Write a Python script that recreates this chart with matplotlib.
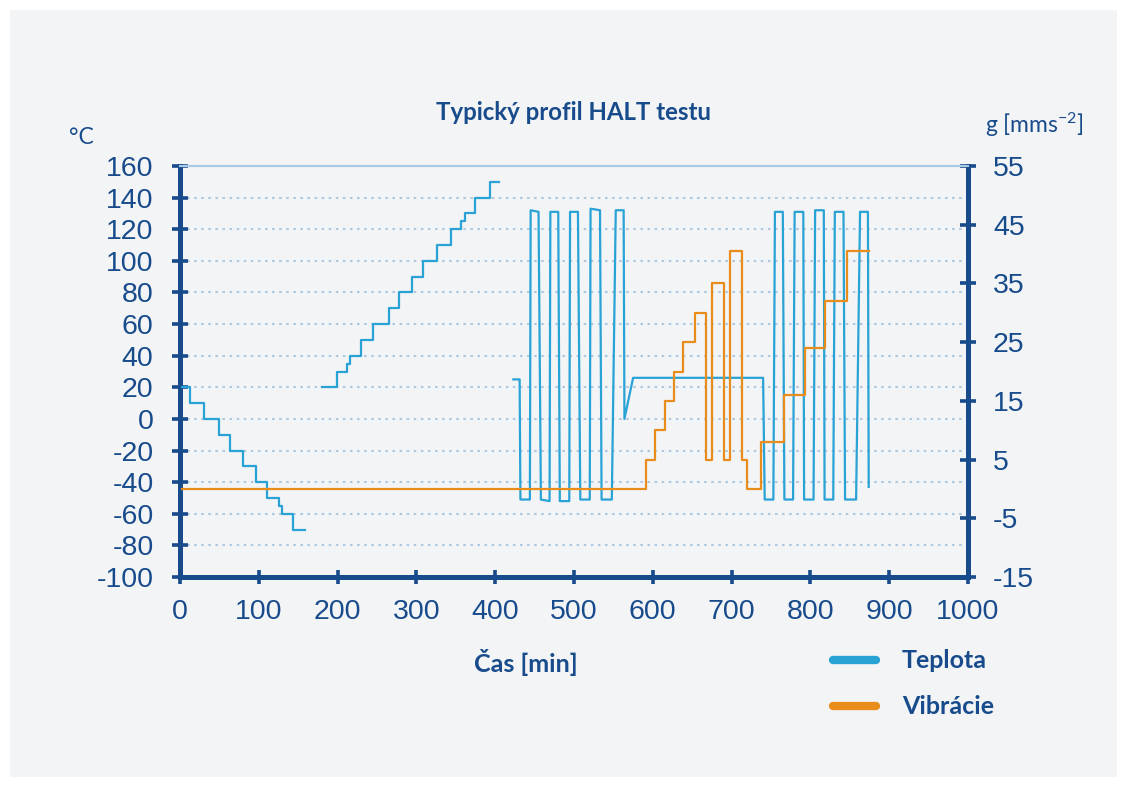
import matplotlib
matplotlib.use('Agg')
import matplotlib.pyplot as plt
from matplotlib.patches import Rectangle
from matplotlib.lines import Line2D

# ---- data ----
# Teplota: cold step stress (step, where='post')
cold_t = [3, 13, 31, 50, 64, 80, 96, 111, 126, 129, 143, 159]
cold_v = [20, 10, 0, -10, -20, -30, -40, -50, -55, -60, -70, -70]
# Teplota: hot step stress
hot_t = [180, 199, 212, 216, 230, 245, 265, 278, 294, 309, 326, 344, 357, 362, 375, 393, 405]
hot_v = [20, 30, 35, 40, 50, 60, 70, 80, 90, 100, 110, 120, 125, 130, 140, 150, 150]
# Teplota: rapid thermal cycling + combined (polyline)
cyc_t = [423, 431, 432, 444, 445, 455, 458, 469, 470, 480, 482, 494, 495, 505, 508, 520,
         521, 533, 535, 548, 553, 563, 564, 575, 740, 742, 753, 755, 765, 767, 778, 780,
         791, 792, 804, 806, 817, 818, 829, 831, 842, 844, 858, 863, 873, 874]
cyc_v = [25, 25, -51, -51, 132, 131, -51, -52, 131, 131, -52, -52, 131, 131, -51, -51,
         133, 132, -51, -51, 132, 132, 0, 26, 26, -51, -51, 131, 131, -51, -51, 131,
         131, -51, -51, 132, 132, -51, -51, 131, 131, -51, -51, 131, 131, -43]
# Vibrácie (g), step where='post'
vib_t = [3, 591, 603, 615, 627, 638, 653, 668, 675, 690, 698, 713, 720, 737, 767, 793, 819, 846, 874]
vib_v = [0, 5, 10, 15, 20, 25, 30, 5, 35, 5, 40.5, 5, 0, 8, 16, 24, 32, 40.5, 40.5]

x_ticks = list(range(0, 1001, 100))
y_ticks = list(range(-100, 161, 20))
g_ticks = list(range(-15, 56, 10))

NAVY = '#174b8b'
BLUE = '#29a2d6'
ORANGE = '#e88d1c'
BG = '#f3f4f6'

plt.rcParams['font.family'] = ['Liberation Sans', 'DejaVu Sans']
plt.rcParams['axes.unicode_minus'] = False
plt.rcParams['mathtext.default'] = 'regular'

W, H = 1127, 787
fig = plt.figure(figsize=(W / 100, H / 100), dpi=100, facecolor='white')
fig.patches.append(Rectangle((10 / W, 10 / H), 1 - 20 / W, 1 - 20 / H,
                             transform=fig.transFigure, facecolor=BG,
                             edgecolor='none', zorder=-10))

ax = fig.add_axes([180 / W, 1 - 577 / H, 788 / W, 411 / H])
ax.set_facecolor('none')
ax2 = ax.twinx()

# lines
ax.step(cold_t, cold_v, where='post', color=BLUE, lw=1.6, zorder=3)
ax.step(hot_t, hot_v, where='post', color=BLUE, lw=1.6, zorder=3)
ax.plot(cyc_t, cyc_v, color=BLUE, lw=1.6, zorder=3)
ax2.step(vib_t, vib_v, where='post', color=ORANGE, lw=1.6, zorder=3)

ax.set_xlim(0, 1000)
ax.set_ylim(-100, 160)
ax2.set_ylim(-15, 55)
ax.set_xticks(x_ticks)
ax.set_yticks(y_ticks)
ax2.set_yticks(g_ticks)

ax.grid(axis='y', color='#adc8df', linestyle=(0, (1.2, 2.2)), lw=1.5)
ax.set_axisbelow(True)

for a in (ax, ax2):
    for s in ('left', 'right', 'bottom'):
        a.spines[s].set_color(NAVY)
        a.spines[s].set_linewidth(3.6)
    a.spines['top'].set_color('#a9cbe6')
    a.spines['top'].set_linewidth(1.5)
ax.spines['right'].set_visible(False)
ax2.spines['left'].set_visible(False)
ax2.spines['bottom'].set_visible(False)

FS = 20.5
ax.tick_params(axis='y', direction='inout', length=12, width=2.6, color=NAVY,
               labelsize=FS, labelcolor=NAVY, pad=13)
ax.tick_params(axis='x', direction='inout', length=10, width=2.6, color=NAVY,
               labelsize=FS, labelcolor=NAVY, pad=11)
ax2.tick_params(axis='y', direction='inout', length=12, width=2.6, color=NAVY,
                labelsize=FS, labelcolor=NAVY, pad=12)

LF = ['Lato', 'DejaVu Sans']
# texts
fig.text(574 / W, 1 - 112 / H, 'Typický profil HALT testu', ha='center', va='center',
         fontsize=17.3, fontweight='bold', color=NAVY, family=LF)
fig.text(69 / W, 1 - 138 / H, '°C', ha='left', va='center', fontsize=16.5,
         color=NAVY, family=LF)
fig.text(985 / W, 1 - 125 / H, r'g [mms$^{-2}$]', ha='left', va='center', fontsize=16.5,
         color=NAVY, family=LF)
fig.text(526 / W, 1 - 662 / H, 'Čas [min]', ha='center', va='center', fontsize=18,
         fontweight='bold', color=NAVY, family=LF)

# legend
for yy, col, lab in ((660, BLUE, 'Teplota'), (706, ORANGE, 'Vibrácie')):
    fig.add_artist(Line2D([833 / W, 876 / W], [1 - yy / H, 1 - yy / H],
                          transform=fig.transFigure, color=col, lw=6,
                          solid_capstyle='round'))
    fig.text(902 / W, 1 - yy / H, lab, ha='left', va='center', fontsize=18,
             fontweight='bold', color=NAVY, family=LF)

fig.savefig('out.png', dpi=100, facecolor=fig.get_facecolor())
